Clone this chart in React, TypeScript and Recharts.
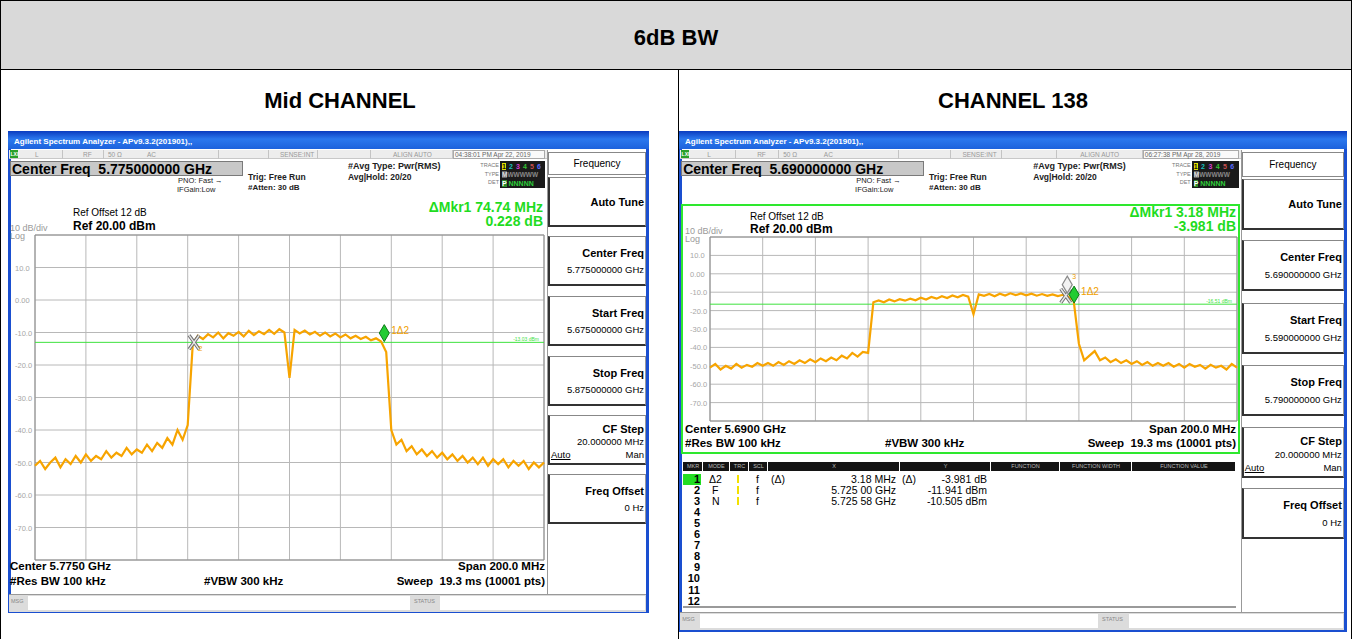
import React from 'react';
import { CartesianGrid, Line, LineChart, ReferenceArea, ReferenceDot, ReferenceLine, XAxis, YAxis } from 'recharts';

const FONT = '"Liberation Sans", Arial, Helvetica, sans-serif';

// sweep: 2 MHz per reading, 200 MHz span
const sweepStepMHz = 2;
const midStartMHz = 5675;
const midStopMHz = 5875;
const ch138StartMHz = 5590;
const ch138StopMHz = 5790;

const midFreqTicks = [5675, 5695, 5715, 5735, 5755, 5775, 5795, 5815, 5835, 5855, 5875];
const ch138FreqTicks = [5590, 5610, 5630, 5650, 5670, 5690, 5710, 5730, 5750, 5770, 5790];
const levelTicks = [20, 10, 0, -10, -20, -30, -40, -50, -60, -70, -80];

// trace 1, dBm, every 2 MHz
const midLevels = [
  -51, -49.5, -52, -50, -48.5, -51.5, -49, -50.5, -48, -50,
  -47.5, -49.5, -48, -49, -46.5, -48.5, -47, -48, -45.5, -47.5,
  -46, -47, -44.5, -46.5, -44, -45.5, -42.5, -44.5, -40, -43,
  -38.5, -13.5, -11, -12, -10.5, -11.5, -10, -11.8, -10.2, -11,
  -9.8, -11.2, -9.5, -10.8, -9.6, -10.5, -9.2, -10.4, -9, -10,
  -24, -9.2, -10.3, -9.4, -10.6, -9.8, -11, -10, -11.2, -10.3,
  -11.5, -10.6, -11.8, -11, -12, -11.3, -12.4, -11.8, -12.8, -16,
  -40, -44.5, -43, -46.5, -45, -47.5, -46, -48, -46.5, -48.5,
  -47, -49, -47.5, -49.5, -48, -50, -48.5, -50.5, -48.5, -51,
  -49, -50.5, -49, -51.5, -49.5, -51, -49.5, -52, -50, -51.5,
  -50,
];

const ch138Levels = [
  -51, -49, -52, -50, -51.5, -49, -51, -49.5, -50.5, -48.5,
  -50, -48.5, -50, -48, -49.5, -47.5, -49, -47, -48.5, -46.5,
  -48, -46, -47.5, -45.5, -47, -44.5, -46, -43, -45, -42.5,
  -43, -15.5, -14.5, -15.5, -14, -15, -13.8, -14.6, -13.5, -14.4,
  -13, -14, -12.6, -13.5, -12.2, -13.2, -11.8, -12.8, -11.5, -12.4,
  -22, -11.2, -12, -11, -12.2, -10.8, -11.8, -10.6, -11.6, -10.7,
  -11.7, -10.8, -11.9, -11, -12, -11.2, -12.1, -11.4, -12.5, -14.5,
  -38, -47, -44.5, -42, -47, -45.5, -48, -46.5, -48.5, -47,
  -49, -47.5, -49.5, -48, -50, -48.5, -50, -48.5, -50.5, -49,
  -51, -49, -50.5, -49.5, -51.5, -49.5, -51, -50, -52, -49,
  -51,
];

const midDisplayLine = -13.03;
const ch138DisplayLine = -16.51;

type Marker = { tag: string; f: number; v: number; kind: 'x' | 'delta' | 'outline' };

const midMarkers: Marker[] = [
  { tag: '2', f: 5737.5, v: -13.03, kind: 'x' },
  { tag: '1Δ2', f: 5812.24, v: -12.8, kind: 'delta' },
];
const ch138Markers: Marker[] = [
  { tag: '', f: 5725.0, v: -11.941, kind: 'x' },
  { tag: '3', f: 5725.58, v: -10.505, kind: 'outline' },
  { tag: '1Δ2', f: 5728.18, v: -15.922, kind: 'delta' },
];

const tableHead = ['MKR', 'MODE', 'TRC', 'SCL', 'X', 'Y', 'FUNCTION', 'FUNCTION WIDTH', 'FUNCTION VALUE'];
const tableRows = [
  ['1', 'Δ2', 'f', '(Δ)', '3.18 MHz', '(Δ)', '-3.981 dB'],
  ['2', 'F', 'f', '', '5.725 00 GHz', '', '-11.941 dBm'],
  ['3', 'N', 'f', '', '5.725 58 GHz', '', '-10.505 dBm'],
];

const midData = midLevels.map((v, i) => ({ f: midStartMHz + i * sweepStepMHz, v }));
const ch138Data = ch138Levels.map((v, i) => ({ f: ch138StartMHz + i * sweepStepMHz, v }));

function Txt({ x, y, s = 10, b = false, c = '#000', a = 'left', u = false, children }: any) {
  const st: React.CSSProperties = {
    position: 'absolute', top: y - s * 0.5, fontSize: s, lineHeight: `${s}px`,
    fontWeight: b ? 700 : 400, color: c, whiteSpace: 'pre', fontFamily: FONT,
    textDecoration: u ? 'underline' : undefined,
  };
  if (a === 'right') st.right = 1352 - x;
  else if (a === 'center') { st.left = x - 300; st.width = 600; st.textAlign = 'center'; }
  else st.left = x;
  return <div style={st}>{children}</div>;
}

function Box({ x, y, w, h, bg = 'transparent', style }: any) {
  return <div style={{ position: 'absolute', left: x, top: y, width: w, height: h, boxSizing: 'border-box', background: bg, ...style }} />;
}

function Key({ x, y, w, h, label, value, split }: any) {
  return (
    <>
      <Box x={x} y={y} w={w} h={h} bg="#fff" style={{ borderTop: '1px solid #888', borderLeft: '2px solid #333', borderRight: '1px solid #999', borderBottom: '2px solid #333' }} />
      {value === undefined && <Txt x={x + w - 2} y={y + h / 2} s={11} b a="right">{label}</Txt>}
      {value !== undefined && !split && (
        <>
          <Txt x={x + w - 2} y={y + h * 0.35} s={11} b a="right">{label}</Txt>
          <Txt x={x + w - 2} y={y + h * 0.68} s={9.5} a="right">{value}</Txt>
        </>
      )}
      {split && (
        <>
          <Txt x={x + w - 2} y={y + h * 0.28} s={11} b a="right">{label}</Txt>
          <Txt x={x + w - 2} y={y + h * 0.54} s={9.5} a="right">{value}</Txt>
          <Txt x={x + 3} y={y + h * 0.8} s={9.5} u>Auto</Txt>
          <Txt x={x + w - 2} y={y + h * 0.8} s={9.5} a="right">Man</Txt>
        </>
      )}
    </>
  );
}

function Window({ x0, w, h, centerFreq, stamp, freqH, keyTops, keyH, vals, msgY }: any) {
  const k = w / 641;
  const X = (r: number) => x0 + r * k;
  const digits = ['#e0e000', '#18bfbf', '#d33fd3', '#33c033', '#c85050', '#5a6cff'];
  return (
    <>
      <Box x={x0} y={131} w={w} h={h} bg="#fff" style={{ border: '3px solid #1a4fd0', borderTop: 'none' }} />
      <Box x={x0} y={131} w={w} h={18} bg="linear-gradient(#0a3bbf, #2b78ee 45%, #1d62dc)" />
      <Txt x={x0 + 6} y={142} s={8} b c="#fff">Agilent Spectrum Analyzer - APv9.3.2(201901),,</Txt>
      <Box x={X(1)} y={150} w={538 * k} h={9} bg="#ededed" style={{ borderBottom: '1px solid #c8c8c8' }} />
      <Box x={X(2)} y={150} w={8} h={8} bg="#2aa02a" />
      <Txt x={X(2.5)} y={154.5} s={5} b c="#fff">LXI</Txt>
      {[54, 95, 210, 260, 309, 362, 444].map((r) => <Box key={r} x={X(r)} y={150} w={1} h={9} bg="#c4c4c4" />)}
      <Txt x={X(27)} y={155} s={6.5} c="#999">L</Txt>
      <Txt x={X(75)} y={155} s={6.5} c="#999">RF</Txt>
      <Txt x={X(100)} y={155} s={6.5} c="#999">50 Ω</Txt>
      <Txt x={X(139)} y={155} s={6.5} c="#999">AC</Txt>
      <Txt x={X(272)} y={155} s={6.5} c="#999">SENSE:INT</Txt>
      <Txt x={X(385)} y={155} s={6.5} c="#999">ALIGN AUTO</Txt>
      <Box x={X(445)} y={150} w={92 * k} h={9} bg="#fafafa" style={{ border: '1px solid #aaa' }} />
      <Txt x={X(447)} y={155} s={6.5} c="#666">{stamp}</Txt>
      <Box x={X(2)} y={161} w={233 * k} h={15} bg="#c8c8c8" style={{ border: '1px solid #7a7a7a' }} />
      <Txt x={X(4)} y={168.5} s={14} b>{centerFreq}</Txt>
      <Txt x={X(170)} y={181} s={7.5} c="#222">PNO: Fast →</Txt>
      <Txt x={X(169)} y={190} s={7.5} c="#222">IFGain:Low</Txt>
      <Txt x={X(240)} y={177} s={8.5} b c="#222">Trig: Free Run</Txt>
      <Txt x={X(240)} y={188} s={8} b c="#222">#Atten: 30 dB</Txt>
      <Txt x={X(340)} y={166} s={9} b c="#222">#Avg Type: Pwr(RMS)</Txt>
      <Txt x={X(340)} y={177} s={8.5} b c="#222">Avg|Hold: 20/20</Txt>
      <Txt x={X(491)} y={166} s={5.5} c="#777" a="right">TRACE</Txt>
      <Txt x={X(491)} y={175} s={5.5} c="#777" a="right">TYPE</Txt>
      <Txt x={X(491)} y={183} s={5.5} c="#777" a="right">DET</Txt>
      <Box x={X(492)} y={161} w={45 * k} h={27} bg="#1a1a1a" />
      {digits.map((col, j) => (
        <Txt key={j} x={X(494) + j * 7 * k} y={166} s={7} b c={j === 0 ? '#111' : col}>
          {j === 0 ? <span style={{ background: col }}>1</span> : String(j + 1)}
        </Txt>
      ))}
      <Txt x={X(494)} y={175} s={6.5} b c="#ddd"><span style={{ background: '#666' }}>M</span><span style={{ color: '#888' }}>WWWWW</span></Txt>
      <Txt x={X(494)} y={183} s={7} b c="#2ecf3a"><span style={{ background: '#2a8a2a', color: '#fff' }}>P</span> NNNNN</Txt>
      <Box x={X(539)} y={150} w={1} h={msgY - 150} bg="#999" />
      <Box x={X(540)} y={152} w={98 * k} h={freqH} bg="#fff" style={{ border: '1px solid #888' }} />
      <Txt x={X(540) + 49 * k} y={152 + freqH / 2} s={10} a="center">Frequency</Txt>
      <Key x={X(540)} y={keyTops[0]} w={98 * k} h={keyH} label="Auto Tune" />
      <Key x={X(540)} y={keyTops[1]} w={98 * k} h={keyH} label="Center Freq" value={vals[0]} />
      <Key x={X(540)} y={keyTops[2]} w={98 * k} h={keyH} label="Start Freq" value={vals[1]} />
      <Key x={X(540)} y={keyTops[3]} w={98 * k} h={keyH} label="Stop Freq" value={vals[2]} />
      <Key x={X(540)} y={keyTops[4]} w={98 * k} h={keyH} label="CF Step" value="20.000000 MHz" split />
      <Key x={X(540)} y={keyTops[5]} w={98 * k} h={keyH} label="Freq Offset" value="0 Hz" />
      <Box x={X(1)} y={msgY} w={637 * k} h={18} bg="#dcdcdc" style={{ borderTop: '1px solid #999' }} />
      <Box x={X(20)} y={msgY + 2} w={382 * k} h={14} bg="#fff" />
      <Box x={X(432)} y={msgY + 2} w={205 * k} h={14} bg="#fff" />
      <Txt x={X(3)} y={msgY + 8} s={5.5} c="#888">MSG</Txt>
      <Txt x={X(406)} y={msgY + 8} s={5.5} c="#888">STATUS</Txt>
    </>
  );
}

const fmtLevel = (v: number) => (v === 20 || v === -80 ? '' : v === 0 ? '0.00' : v.toFixed(1));

function markerShape(m: Marker) {
  return (p: any) => {
    const { cx, cy } = p;
    if (m.kind === 'x') {
      const d = `M${cx - 5},${cy - 7}L${cx + 5},${cy + 7}M${cx + 5},${cy - 7}L${cx - 5},${cy + 7}`;
      return (
        <g>
          <path d={d} stroke="#707070" strokeWidth={3.4} />
          <path d={d} stroke="#e8e8e8" strokeWidth={1.4} />
          {m.tag && <text x={cx + 4} y={cy + 9} fontSize={8} fill="#f0a000" fontFamily={FONT}>{m.tag}</text>}
        </g>
      );
    }
    if (m.kind === 'outline') {
      return (
        <g>
          <polygon points={`${cx},${cy - 17} ${cx + 5},${cy - 8.5} ${cx},${cy} ${cx - 5},${cy - 8.5}`} fill="#f2f2f2" stroke="#8a8a8a" strokeWidth={1.2} />
          <text x={cx + 5} y={cy - 14} fontSize={7} fill="#f0a000" fontFamily={FONT}>{m.tag}</text>
        </g>
      );
    }
    return (
      <g>
        <polygon points={`${cx},${cy - 17} ${cx + 5},${cy - 8.5} ${cx},${cy} ${cx - 5},${cy - 8.5}`} fill="#22cc33" stroke="#0e7a18" strokeWidth={1} />
        <text x={cx + 7} y={cy - 8} fontSize={10} fill="#f0a000" fontFamily={FONT}>{m.tag}</text>
      </g>
    );
  };
}

function Trace({ left, top, width, height, start, stop, ticks, data, line, lineLabel, markers }: any) {
  return (
    <div style={{ position: 'absolute', left, top }}>
      <LineChart width={width} height={height} data={data} margin={{ top: 10, right: 10, bottom: 10, left: 0 }}>
        <CartesianGrid stroke="#b8b8b8" strokeWidth={1} />
        <XAxis type="number" dataKey="f" domain={[start, stop]} ticks={ticks} hide />
        <YAxis
          type="number"
          domain={[-80, 20]}
          ticks={levelTicks}
          interval={0}
          width={35}
          axisLine={false}
          tickLine={false}
          tick={(p: any) => (
            <text x={15} y={p.y + 3} fontSize={7.5} fill="#a6a6a6" fontFamily={FONT}>{fmtLevel(p.payload.value)}</text>
          )}
        />
        <ReferenceArea x1={start} x2={stop} y1={-80} y2={20} fill="none" fillOpacity={0} stroke="#8c8c8c" />
        <ReferenceLine
          y={line}
          stroke="#3ee23e"
          strokeWidth={1}
          label={{ value: lineLabel, position: 'insideRight', fill: '#3ee23e', fontSize: 5, dy: -3 }}
        />
        <Line type="linear" dataKey="v" stroke="#f7a400" strokeWidth={2.2} dot={false} isAnimationActive={false} />
        {markers.map((m: Marker, i: number) => (
          <ReferenceDot key={i} x={m.f} y={m.v} r={0} shape={markerShape(m)} />
        ))}
      </LineChart>
    </div>
  );
}

export default function App() {
  const colX = [683, 703, 730, 749, 768, 900, 991, 1060, 1132, 1236];
  return (
    <div style={{ position: 'absolute', left: 0, top: 0, width: 1352, height: 639, overflow: 'hidden', background: '#fff', fontFamily: FONT }}>
      <Box x={0} y={0} w={1351} h={70} bg="#d9d9d9" style={{ borderBottom: '1px solid #000' }} />
      <Box x={0} y={0} w={1352} h={700} style={{ border: '1px solid #000' }} />
      <Box x={678} y={70} w={1} h={600} bg="#000" />
      <Txt x={676} y={38} s={22} b a="center">6dB BW</Txt>
      <Txt x={340} y={101} s={22} b a="center">Mid CHANNEL</Txt>
      <Txt x={1013} y={101} s={22} b a="center">CHANNEL 138</Txt>

      {/* left screenshot */}
      <Window x0={8} w={641} h={482} centerFreq="Center Freq  5.775000000 GHz" stamp="04:38:01 PM Apr 22, 2019"
        freqH={23} keyTops={[177, 236, 296, 356, 415, 474]} keyH={50}
        vals={['5.775000000 GHz', '5.675000000 GHz', '5.875000000 GHz']} msgY={594} />
      <Txt x={543} y={206.5} s={14} b c="#1fdc1f" a="right">ΔMkr1 74.74 MHz</Txt>
      <Txt x={543} y={220.5} s={14} b c="#1fdc1f" a="right">0.228 dB</Txt>
      <Txt x={73} y={213} s={10}>Ref Offset 12 dB</Txt>
      <Txt x={73} y={226} s={12} b>Ref 20.00 dBm</Txt>
      <Txt x={10} y={228} s={9} c="#9a9a9a">10 dB/div</Txt>
      <Txt x={10} y={236} s={9} c="#9a9a9a">Log</Txt>
      <Trace left={0} top={225} width={554} height={345} start={midStartMHz} stop={midStopMHz} ticks={midFreqTicks}
        data={midData} line={midDisplayLine} lineLabel="-13.03 dBm" markers={midMarkers} />
      <Txt x={10} y={567} s={11.5} b>Center 5.7750 GHz</Txt>
      <Txt x={10} y={582} s={11.5} b>#Res BW 100 kHz</Txt>
      <Txt x={204} y={582} s={11.5} b>#VBW 300 kHz</Txt>
      <Txt x={545} y={567} s={11.5} b a="right">Span 200.0 MHz</Txt>
      <Txt x={545} y={582} s={11.5} b a="right">Sweep  19.3 ms (10001 pts)</Txt>

      {/* right screenshot */}
      <Window x0={679} w={668} h={501} centerFreq="Center Freq  5.690000000 GHz" stamp="06:27:38 PM Apr 28, 2019"
        freqH={25} keyTops={[179, 240, 303, 365, 427, 488]} keyH={51}
        vals={['5.690000000 GHz', '5.590000000 GHz', '5.790000000 GHz']} msgY={612} />
      <Box x={681} y={204} w={559} h={250} style={{ border: '2px solid #2ee82e' }} />
      <Txt x={1236} y={212} s={14} b c="#1fdc1f" a="right">ΔMkr1 3.18 MHz</Txt>
      <Txt x={1236} y={226} s={14} b c="#1fdc1f" a="right">-3.981 dB</Txt>
      <Txt x={750} y={217} s={10}>Ref Offset 12 dB</Txt>
      <Txt x={750} y={229} s={12} b>Ref 20.00 dBm</Txt>
      <Txt x={685} y={231} s={9} c="#9a9a9a">10 dB/div</Txt>
      <Txt x={685} y={239} s={9} c="#9a9a9a">Log</Txt>
      <Trace left={675} top={227} width={572} height={204} start={ch138StartMHz} stop={ch138StopMHz} ticks={ch138FreqTicks}
        data={ch138Data} line={ch138DisplayLine} lineLabel="-16.51 dBm" markers={ch138Markers} />
      <Txt x={685} y={430} s={11.5} b>Center 5.6900 GHz</Txt>
      <Txt x={685} y={444} s={11.5} b>#Res BW 100 kHz</Txt>
      <Txt x={885} y={444} s={11.5} b>#VBW 300 kHz</Txt>
      <Txt x={1236} y={430} s={11.5} b a="right">Span 200.0 MHz</Txt>
      <Txt x={1236} y={444} s={11.5} b a="right">Sweep  19.3 ms (10001 pts)</Txt>

      {/* marker table */}
      {tableHead.map((hd, j) => (
        <React.Fragment key={hd}>
          <Box x={colX[j]} y={462} w={colX[j + 1] - colX[j] - 1.5} h={9} bg="#141414" />
          <Txt x={(colX[j] + colX[j + 1]) / 2} y={466.5} s={5.5} c="#bbb" a="center">{hd}</Txt>
        </React.Fragment>
      ))}
      <Box x={683} y={473.5} w={18} h={11} bg="#22dd22" />
      {Array.from({ length: 12 }, (_, i) => (
        <Txt key={i} x={700} y={479 + i * 11.1} s={11} b a="right">{String(i + 1)}</Txt>
      ))}
      {tableRows.map((r, i) => {
        const y = 479 + i * 11.1;
        return (
          <React.Fragment key={i}>
            <Txt x={r[1].length > 1 ? 709 : 712} y={y} s={10.5}>{r[1]}</Txt>
            <Box x={737} y={y - 4} w={1.5} h={8} bg="#f2e000" />
            <Txt x={756} y={y} s={10.5}>{r[2]}</Txt>
            <Txt x={771} y={y} s={10.5}>{r[3]}</Txt>
            <Txt x={896} y={y} s={10.5} a="right">{r[4]}</Txt>
            <Txt x={902} y={y} s={10.5}>{r[5]}</Txt>
            <Txt x={987} y={y} s={10.5} a="right">{r[6]}</Txt>
          </React.Fragment>
        );
      })}
      <Box x={683} y={606} w={553} h={2} bg="#9a9a9a" />
    </div>
  );
}
